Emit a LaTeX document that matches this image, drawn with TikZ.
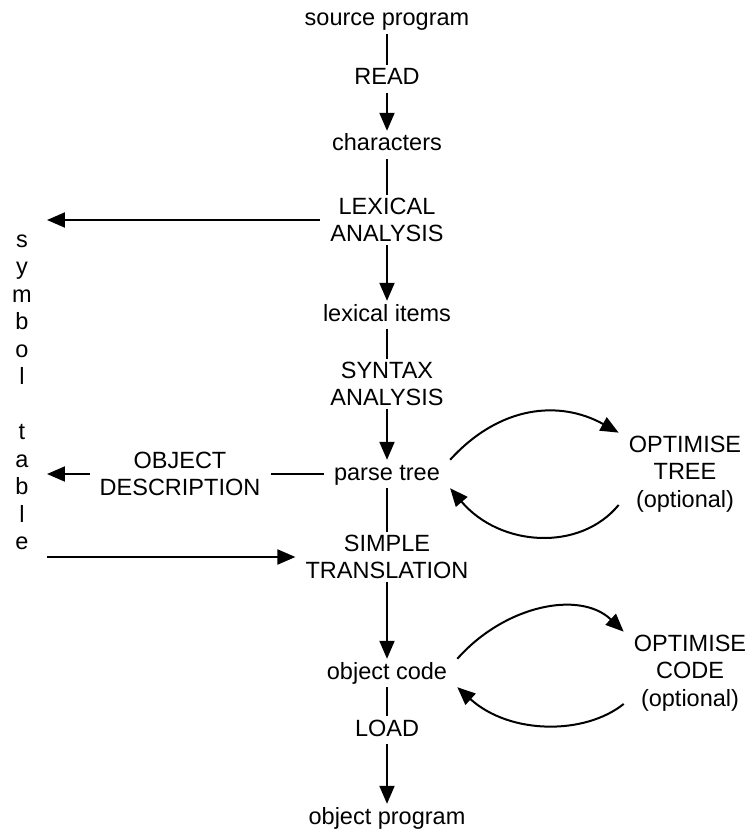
\documentclass[tikz,border=0pt]{standalone}
\usepackage{fontspec}
\setmainfont{Liberation Sans}
\usetikzlibrary{arrows.meta,calc}
\begin{document}
\begin{tikzpicture}[x=1pt,y=-1pt,
  every node/.style={font=\fontsize{23.5}{27.5}\selectfont, inner xsep=10pt, inner ysep=3pt},
  lbl/.style={text height=17pt, text depth=5pt},
  multi/.style={align=center},
  conn/.style={line width=2pt},
  arr/.style={line width=2pt, -{Triangle[length=18pt,width=15pt]}},
]
\useasboundingbox (0,0) rectangle (754,837);

% main column
\node[lbl] (src) at (387,20) {source program};
\node[lbl] (read) at (387,79) {READ};
\node[lbl] (chars) at (387,145) {characters};
\node[multi] (lex) at (387,220) {LEXICAL\\ANALYSIS};
\node[lbl] (items) at (387,315) {lexical items};
\node[multi] (syn) at (387,384) {SYNTAX\\ANALYSIS};
\node[lbl] (pt) at (387,474) {parse tree};
\node[multi] (simp) at (387,557) {SIMPLE\\TRANSLATION};
\node[lbl] (ob) at (387,673) {object code};
\node[lbl] (load) at (387,730) {LOAD};
\node[lbl] (op) at (387,818) {object program};

% side nodes
\node[multi] (objd) at (180,474) {OBJECT\\DESCRIPTION};
\node[multi] (ot) at (685,474) {OPTIMISE\\TREE\\(optional)};
\node[multi] (oc) at (690,673) {OPTIMISE\\CODE\\(optional)};
\node[multi, inner xsep=15pt] (sym) at (22,392.5) {s\\y\\m\\b\\o\\l\\[27.5pt]t\\a\\b\\l\\e};

% main column connectors
\draw[conn] (src) -- (read);
\draw[arr] (read) -- (chars);
\draw[conn] (chars) -- (lex);
\draw[arr] (lex) -- (items);
\draw[conn] (items) -- (syn);
\draw[arr] (syn) -- (pt);
\draw[conn] (pt) -- (simp);
\draw[arr] (simp) -- (ob);
\draw[conn] (ob) -- (load);
\draw[arr] (load) -- (op);

% side connectors
\draw[arr] (lex.west) -- (lex.west -| sym.east);
\draw[conn] (pt.west) -- (objd.east);
\draw[arr] (objd.west) -- (objd.west -| sym.east);
\draw[arr] (simp.west -| sym.east) -- (simp.west);

% optimisation loops
\draw[arr] (pt.north east) .. controls (500,405) and (560,400) .. (ot.north west);
\draw[arr] (ot.205) .. controls (580,552) and (500,547) .. (pt.south east);
\draw[arr] (ob.north east) .. controls (505,605) and (580,590) .. (oc.north west);
\draw[arr] (oc.205) .. controls (585,735) and (510,735) .. (ob.south east);
\end{tikzpicture}
\end{document}
